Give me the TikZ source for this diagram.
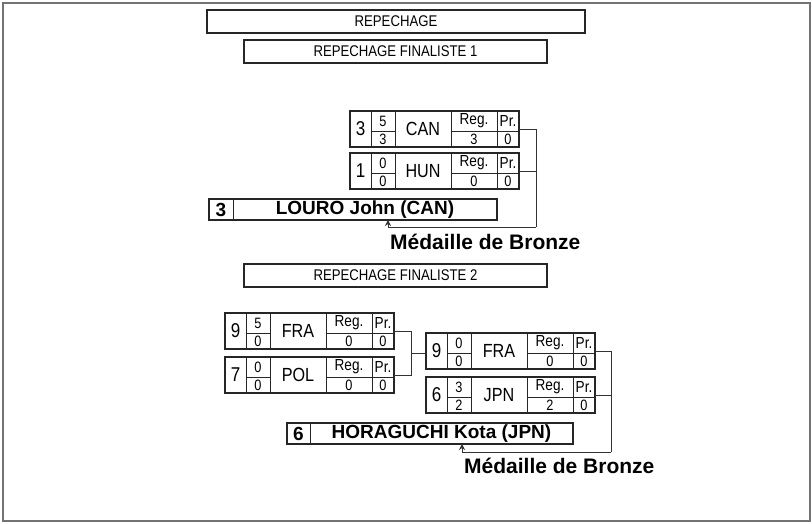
\documentclass[tikz,border=0pt]{standalone}
\usepackage{fontspec}
\setmainfont{Liberation Sans}
\newfontfamily\narrow[FakeStretch=0.85]{Liberation Sans}
\usetikzlibrary{arrows.meta,calc}
\newcommand{\fs}[1]{\fontsize{#1}{#1}\selectfont}
\tikzset{
  box/.style={draw=black!85, line width=1.1pt, inner sep=0pt, outer sep=0pt},
  titlebox/.style={box, anchor=north west, font=\narrow\fs{15.5}},
  cell/.style={inner sep=0pt, font=\narrow\fs{19}},
  label/.style={inner sep=0pt, font=\narrow\fs{16}},
  small/.style={inner sep=0pt, font=\narrow\fs{15}},
  seedtxt/.style={inner sep=0pt, font=\narrow\fs{20}},
  inner/.style={draw=black!85, line width=0.9pt},
  conn/.style={draw=black!80, line width=0.8pt},
  arr/.style={conn, -{Stealth[length=6pt,width=6pt]}},
  medal/.style={inner sep=0pt, anchor=west, font=\bfseries\fs{21}},
  bigname/.style={inner sep=0pt, font=\bfseries\fs{19}},
}
% #1 name, #2 x, #3 y(top), #4 seed, #5 s1, #6 s2, #7 country, #8 reg, #9 pr
\newcommand{\match}[9]{%
  \node[box, anchor=north west, minimum width=169pt, minimum height=36pt] (#1) at (#2,#3) {};
  \draw[inner] ($(#1.north west)+(21,0)$) -- ++(0,36);
  \draw[inner] ($(#1.north west)+(45,0)$) -- ++(0,36);
  \draw[inner] ($(#1.north west)+(101,0)$) -- ++(0,36);
  \draw[inner] ($(#1.north west)+(147,0)$) -- ++(0,36);
  \draw[inner] ($(#1.north west)+(21,20)$) -- ++(24,0);
  \draw[inner] ($(#1.north west)+(101,20)$) -- ++(68,0);
  \node[seedtxt] (#1-seed) at ($(#1.north west)+(10.5,18)$) {#4};
  \node[small] (#1-s1) at ($(#1.north west)+(33,10)$) {#5};
  \node[small] (#1-s2) at ($(#1.north west)+(33,28)$) {#6};
  \node[cell] (#1-c) at ($(#1.north west)+(73,18)$) {#7};
  \node[label] (#1-rl) at ($(#1.north west)+(124,10)$) {Reg.};
  \node[small] (#1-rv) at ($(#1.north west)+(124,28)$) {#8};
  \node[label] (#1-pl) at ($(#1.north west)+(158,10)$) {Pr.};
  \node[small] (#1-pv) at ($(#1.north west)+(158,28)$) {#9};
}
\begin{document}
\begin{tikzpicture}[x=1pt,y=-1pt]
\useasboundingbox (0,0) rectangle (812,524);
\draw[draw=black!55, line width=1.5pt] (3,3) rectangle (810,521);

\node[titlebox, minimum width=378pt, minimum height=23pt] (t0) at (207,10) {REPECHAGE};
\node[titlebox, minimum width=303pt, minimum height=23pt] (t1) at (244,40) {REPECHAGE FINALISTE 1};

\match{can}{350}{111}{3}{5}{3}{CAN}{3}{0}
\match{hun}{350}{153}{1}{0}{0}{HUN}{0}{0}

\node[box, anchor=north west, minimum width=288pt, minimum height=21pt] (louro) at (209,199) {};
\draw[inner] ($(louro.north west)+(24,0)$) -- ++(0,21);
\node[bigname] (louro-seed) at ($(louro.west)+(12,0)$) {3};
\node[bigname] (louro-name) at ($(louro.west)+(156,0)$) {LOURO John (CAN)};

\coordinate (b1) at (536,227);
\coordinate (a1) at (388,227);
\draw[conn] (can.east) -| (b1);
\draw[conn] (hun.east) -- (hun.east -| b1);
\draw[arr] (b1) -- (a1) -- (a1 |- louro.south);
\node[medal] (m1) at (390,242) {Médaille de Bronze};

\node[titlebox, minimum width=303pt, minimum height=23pt] (t2) at (244,264) {REPECHAGE FINALISTE 2};

\match{fra}{225}{313}{9}{5}{0}{FRA}{0}{0}
\match{pol}{225}{357}{7}{0}{0}{POL}{0}{0}
\match{frb}{426}{333}{9}{0}{0}{FRA}{0}{0}
\match{jpn}{426}{377}{6}{3}{2}{JPN}{2}{0}

\coordinate (j1) at ($(fra.east)!0.5!(pol.east)+(17,0)$);
\draw[conn] (fra.east) -| (j1);
\draw[conn] (pol.east) -| (j1);
\draw[conn] (j1) -- (j1 -| frb.west);

\node[box, anchor=north west, minimum width=286pt, minimum height=21pt] (hora) at (287,423) {};
\draw[inner] ($(hora.north west)+(23,0)$) -- ++(0,21);
\node[bigname] (hora-seed) at ($(hora.west)+(11.5,0)$) {6};
\node[bigname] (hora-name) at ($(hora.west)+(154.5,0)$) {HORAGUCHI Kota (JPN)};

\coordinate (b2) at (611,452);
\coordinate (a2) at (462,452);
\draw[conn] (frb.east) -| (b2);
\draw[conn] (jpn.east) -- (jpn.east -| b2);
\draw[arr] (b2) -- (a2) -- (a2 |- hora.south);
\node[medal] (m2) at (464,466) {Médaille de Bronze};
\end{tikzpicture}
\end{document}
